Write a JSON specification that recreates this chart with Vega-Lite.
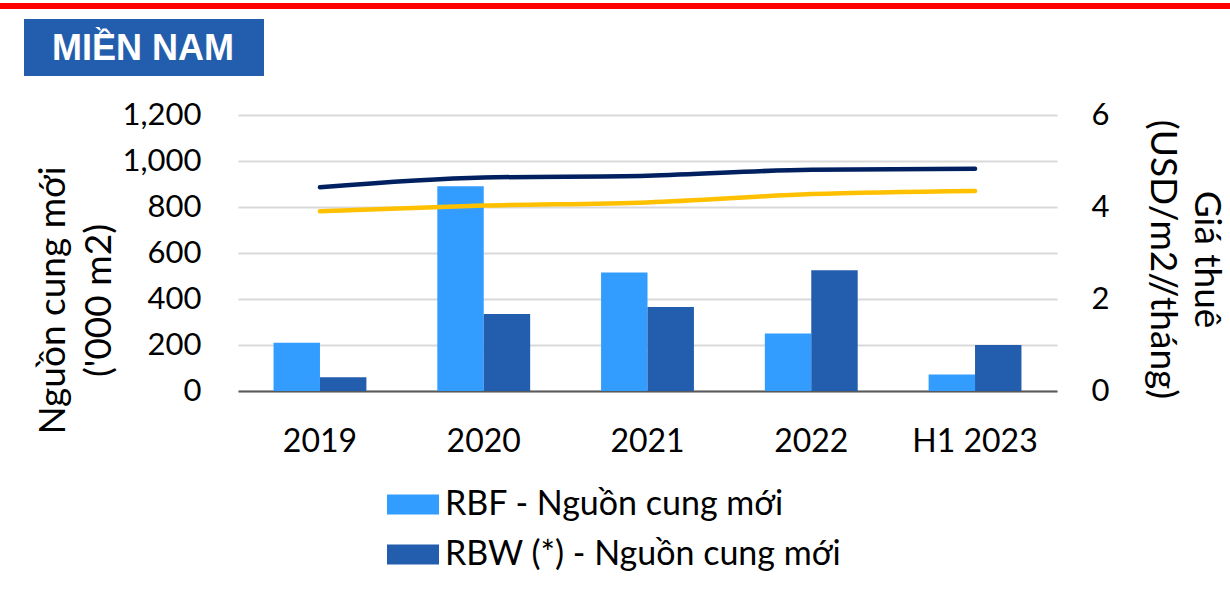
{
  "$schema": "https://vega.github.io/schema/vega-lite/v6.json",
  "padding": 0,
  "background": "white",
  "columns": 3,
  "spacing": 0,
  "bounds": "flush",
  "datasets": {
    "blank": [{"t": ""}],
    "header": [{"label": "MIỀN NAM"}],
    "supply": [
      {"year": "2019", "series": "RBF - Nguồn cung mới", "value": 210},
      {"year": "2019", "series": "RBW (*) - Nguồn cung mới", "value": 60},
      {"year": "2020", "series": "RBF - Nguồn cung mới", "value": 890},
      {"year": "2020", "series": "RBW (*) - Nguồn cung mới", "value": 335},
      {"year": "2021", "series": "RBF - Nguồn cung mới", "value": 515},
      {"year": "2021", "series": "RBW (*) - Nguồn cung mới", "value": 365},
      {"year": "2022", "series": "RBF - Nguồn cung mới", "value": 250},
      {"year": "2022", "series": "RBW (*) - Nguồn cung mới", "value": 525},
      {"year": "H1 2023", "series": "RBF - Nguồn cung mới", "value": 72},
      {"year": "H1 2023", "series": "RBW (*) - Nguồn cung mới", "value": 200}
    ],
    "rent": [
      {"year": "2019", "series": "RBW (*) - Giá thuê", "value": 4.43},
      {"year": "2020", "series": "RBW (*) - Giá thuê", "value": 4.64},
      {"year": "2021", "series": "RBW (*) - Giá thuê", "value": 4.68},
      {"year": "2022", "series": "RBW (*) - Giá thuê", "value": 4.81},
      {"year": "H1 2023", "series": "RBW (*) - Giá thuê", "value": 4.83},
      {"year": "2019", "series": "RBF - Giá thuê", "value": 3.91},
      {"year": "2020", "series": "RBF - Giá thuê", "value": 4.03},
      {"year": "2021", "series": "RBF - Giá thuê", "value": 4.10},
      {"year": "2022", "series": "RBF - Giá thuê", "value": 4.28},
      {"year": "H1 2023", "series": "RBF - Giá thuê", "value": 4.35}
    ]
  },
  "resolve": {"scale": {"color": "independent"}, "legend": {"color": "independent"}},
  "concat": [
    {"width": 24, "height": 6, "view": {"fill": "#FF0000", "stroke": null}, "data": {"name": "blank"}, "mark": {"type": "text"}, "encoding": {"text": {"field": "t"}}},
    {"width": 214, "height": 6, "view": {"fill": "#FF0000", "stroke": null}, "data": {"name": "blank"}, "mark": {"type": "text"}, "encoding": {"text": {"field": "t"}}},
    {"width": 992, "height": 6, "view": {"fill": "#FF0000", "stroke": null}, "data": {"name": "blank"}, "mark": {"type": "text"}, "encoding": {"text": {"field": "t"}}},

    {"width": 24, "height": 10, "data": {"name": "blank"}, "mark": {"type": "text"}, "encoding": {"text": {"field": "t"}}},
    {"width": 214, "height": 10, "data": {"name": "blank"}, "mark": {"type": "text"}, "encoding": {"text": {"field": "t"}}},
    {"width": 992, "height": 10, "data": {"name": "blank"}, "mark": {"type": "text"}, "encoding": {"text": {"field": "t"}}},

    {"width": 24, "height": 57, "data": {"name": "blank"}, "mark": {"type": "text"}, "encoding": {"text": {"field": "t"}}},
    {"width": 214, "height": 57, "view": {"fill": "#235DAD", "stroke": null}, "data": {"name": "header"},
     "mark": {"type": "text", "font": "Liberation Sans", "fontWeight": "bold", "fontSize": 36, "color": "#FFFFFF", "dx": 12, "dy": 1},
     "encoding": {"text": {"field": "label"}}},
    {"width": 26, "height": 57, "view": {"fill": "#235DAD", "stroke": null}, "data": {"name": "blank"}, "mark": {"type": "text"}, "encoding": {"text": {"field": "t"}}},

    {"width": 24, "height": 39, "data": {"name": "blank"}, "mark": {"type": "text"}, "encoding": {"text": {"field": "t"}}},
    {"width": 214, "height": 39, "data": {"name": "blank"}, "mark": {"type": "text"}, "encoding": {"text": {"field": "t"}}},
    {"width": 992, "height": 39, "data": {"name": "blank"}, "mark": {"type": "text"}, "encoding": {"text": {"field": "t"}}},

    {"width": 24, "height": 276, "data": {"name": "blank"}, "mark": {"type": "text"}, "encoding": {"text": {"field": "t"}}},
    {"width": 214, "height": 276, "data": {"name": "blank"}, "mark": {"type": "text"}, "encoding": {"text": {"field": "t"}}},
    {
      "width": 819,
      "height": 276,
      "layer": [
        {
          "data": {"name": "supply"},
          "mark": {"type": "bar"},
          "encoding": {
            "x": {"field": "year", "type": "nominal", "sort": null,
                  "scale": {"domain": ["2019", "2020", "2021", "2022", "H1 2023"], "paddingInner": 0.433, "paddingOuter": 0.217},
                  "axis": {"title": null}},
            "xOffset": {"field": "series", "type": "nominal", "sort": null},
            "y": {"field": "value", "type": "quantitative",
                  "scale": {"domain": [0, 1200], "nice": false},
                  "axis": {"orient": "left", "values": [0, 200, 400, 600, 800, 1000, 1200], "format": ",.0f",
                           "grid": true, "gridColor": "#D9D9D9", "gridWidth": 2, "labelPadding": 37, "labelFontSize": 31,
                           "title": ["Nguồn cung mới", "('000 m2)"], "titleAngle": -90, "titleAlign": "center",
                           "titleBaseline": "alphabetic", "titleLineHeight": 46, "titleX": -174, "titleY": 185, "titleLimit": 1000}},
            "color": {"field": "series", "type": "nominal", "sort": null,
                      "scale": {"domain": ["RBF - Nguồn cung mới", "RBW (*) - Nguồn cung mới"], "range": ["#339DFF", "#235DAD"]},
                      "legend": {"title": null, "orient": "none", "legendX": 149, "legendY": 365, "direction": "vertical",
                                 "symbolType": "M-1,-0.385H1V0.385H-1Z", "symbolSize": 2704, "symbolStrokeWidth": 0,
                                 "labelFont": "Lato", "labelFontSize": 34, "labelColor": "#000000", "labelOffset": 6,
                                 "labelLimit": 700, "clipHeight": 49, "rowPadding": 1, "padding": 0}}
          }
        },
        {
          "data": {"name": "rent"},
          "mark": {"type": "line", "interpolate": "monotone", "strokeWidth": 4.5, "strokeCap": "round"},
          "encoding": {
            "x": {"field": "year", "type": "nominal", "sort": null, "axis": {"title": null}},
            "y": {"field": "value", "type": "quantitative",
                  "scale": {"domain": [0, 6], "nice": false},
                  "axis": {"orient": "right", "values": [0, 2, 4, 6], "grid": false, "labelPadding": 34, "labelFontSize": 31,
                           "title": ["Giá thuê", "(USD/m2//tháng)"], "titleAngle": 90, "titleAlign": "center",
                           "titleBaseline": "alphabetic", "titleLineHeight": 44, "titleX": 137, "titleY": 144, "titleLimit": 1000}},
            "stroke": {"field": "series", "type": "nominal",
                       "scale": {"domain": ["RBW (*) - Giá thuê", "RBF - Giá thuê"], "range": ["#002060", "#FFC000"]},
                       "legend": null}
          }
        }
      ],
      "resolve": {"scale": {"y": "independent"}}
    },

    {"width": 24, "height": 216, "data": {"name": "blank"}, "mark": {"type": "text"}, "encoding": {"text": {"field": "t"}}},
    {"width": 214, "height": 216, "data": {"name": "blank"}, "mark": {"type": "text"}, "encoding": {"text": {"field": "t"}}},
    {"width": 992, "height": 216, "data": {"name": "blank"}, "mark": {"type": "text"}, "encoding": {"text": {"field": "t"}}},

    {"width": 24, "height": 3, "view": {"fill": "#FF0000", "stroke": null}, "data": {"name": "blank"}, "mark": {"type": "text"}, "encoding": {"text": {"field": "t"}}},
    {"width": 214, "height": 3, "view": {"fill": "#FF0000", "stroke": null}, "data": {"name": "blank"}, "mark": {"type": "text"}, "encoding": {"text": {"field": "t"}}},
    {"width": 992, "height": 3, "view": {"fill": "#FF0000", "stroke": null}, "data": {"name": "blank"}, "mark": {"type": "text"}, "encoding": {"text": {"field": "t"}}}
  ],
  "config": {
    "view": {"stroke": null},
    "concat": {"spacing": 0},
    "axis": {
      "labelFont": "Lato", "labelFontSize": 30, "labelColor": "#000000",
      "titleFont": "Lato", "titleFontSize": 37, "titleFontWeight": "normal", "titleColor": "#000000",
      "ticks": false, "domain": false, "grid": false
    },
    "axisX": {"domain": true, "domainColor": "#595959", "domainWidth": 2, "labelPadding": 35, "labelAngle": 0, "labelFontSize": 32}
  }
}
